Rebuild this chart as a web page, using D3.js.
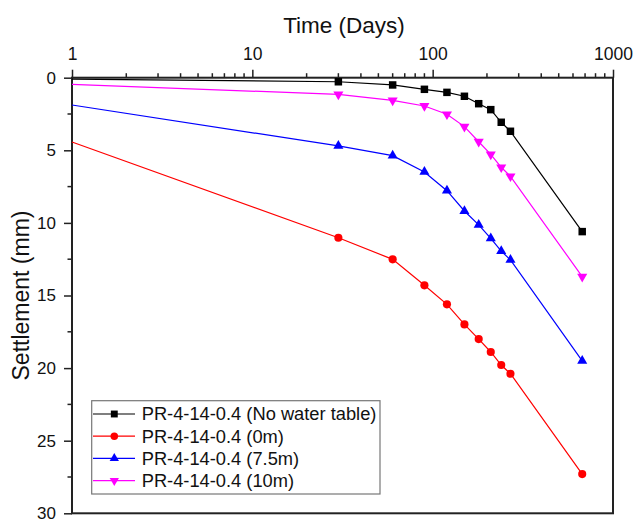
<!DOCTYPE html>
<html>
<head>
<meta charset="utf-8">
<script src="https://cdn.jsdelivr.net/npm/d3@7"></script>
<style>
  html, body { margin: 0; padding: 0; background: #fff; }
  svg text { font-family: "Liberation Sans", Arial, sans-serif; fill: #111; }
</style>
</head>
<body>
<svg id="chart" width="636" height="520"></svg>
<script>
// ---- data ----
const days = [1, 30, 60, 90, 120, 150, 180, 210, 240, 270, 675];
const seriesNames = [
  "PR-4-14-0.4 (No water table)",
  "PR-4-14-0.4 (0m)",
  "PR-4-14-0.4 (7.5m)",
  "PR-4-14-0.4 (10m)"
];
const noWaterTable = [0.10, 0.28, 0.50, 0.80, 1.01, 1.28, 1.79, 2.20, 3.07, 3.69, 10.6];
const wt0m   = [4.43, 11.02, 12.51, 14.30, 15.61, 16.99, 18.00, 18.89, 19.79, 20.39, 27.3];
const wt75m  = [1.88, 4.70, 5.37, 6.49, 7.78, 9.18, 10.14, 11.06, 11.94, 12.55, 19.5];
const wt10m  = [0.46, 1.15, 1.56, 1.95, 2.52, 3.37, 4.41, 5.28, 6.17, 6.79, 13.7];
const xMajorTicks = [1, 10, 100, 1000];
const yMajorTicks = [0, 5, 10, 15, 20, 25, 30];
// first point (day 1) is the line start, drawn without a marker
const markerFromIndex = 1;

// ---- styles ----
const colors = ["#000000", "#ff0000", "#0000ff", "#ff00ff"];
const symbols = [d3.symbolSquare, d3.symbolCircle, d3.symbolTriangle, d3.symbolTriangle];
const symSizes = [56, 52, 44, 44];
const symRot = [0, 0, 0, 180];
const allSeries = [noWaterTable, wt0m, wt75m, wt10m];

const svg = d3.select("#chart");
const L = 72, R = 613, T = 77.7, B = 513.3;

const x = d3.scaleLog().domain([1, 1000]).range([L, R]);
const y = d3.scaleLinear().domain([0, 30]).range([T, B]);

// minor ticks
const xMinor = [];
[1, 10, 100].forEach(d => { for (let k = 2; k <= 9; k++) xMinor.push(d * k); });
const yMinor = d3.range(2.5, 30, 5);

const axisColor = "#222";

// top axis
const gx = svg.append("g").attr("transform", `translate(0,${T})`);
gx.call(d3.axisTop(x).tickValues(xMajorTicks).tickFormat(d3.format("d")).tickSize(8).tickPadding(10).tickSizeOuter(0));
gx.selectAll(".tick text").style("font-size", "17.5px").attr("fill", "#111");
gx.selectAll(".tick line").attr("stroke", axisColor).attr("stroke-width", 1.5);
gx.select(".domain").remove();
gx.selectAll(".minor").data(xMinor).enter().append("line")
  .attr("x1", d => x(d)).attr("x2", d => x(d)).attr("y1", 0).attr("y2", -4.5)
  .attr("stroke", axisColor).attr("stroke-width", 1.5);

// left axis
const gy = svg.append("g").attr("transform", `translate(${L},0)`);
gy.call(d3.axisLeft(y).tickValues(yMajorTicks).tickFormat(d3.format("d")).tickSize(8).tickPadding(8).tickSizeOuter(0));
gy.selectAll(".tick text").style("font-size", "17px").attr("fill", "#111");
gy.selectAll(".tick line").attr("stroke", axisColor).attr("stroke-width", 1.5);
gy.select(".domain").remove();
gy.selectAll(".minor").data(yMinor).enter().append("line")
  .attr("y1", d => y(d)).attr("y2", d => y(d)).attr("x1", 0).attr("x2", -4.5)
  .attr("stroke", axisColor).attr("stroke-width", 1.5);

// frame
svg.append("rect").attr("x", L).attr("y", T).attr("width", R - L).attr("height", B - T)
  .attr("fill", "none").attr("stroke", axisColor).attr("stroke-width", 2);

// axis titles
svg.append("text").attr("x", 344).attr("y", 32.5).attr("text-anchor", "middle")
  .style("font-size", "22.5px").text("Time (Days)");
svg.append("text").attr("transform", `translate(29,${(T + B) / 2}) rotate(-90)`)
  .attr("text-anchor", "middle").style("font-size", "23px").text("Settlement (mm)");

// series
const line = d3.line().x(d => x(d[0])).y(d => y(d[1]));
allSeries.forEach((vals, i) => {
  const pts = days.map((d, j) => [d, vals[j]]);
  svg.append("path").datum(pts).attr("d", line)
    .attr("fill", "none").attr("stroke", colors[i]).attr("stroke-width", 1.2);
  svg.append("g").selectAll("path").data(pts.slice(markerFromIndex)).enter().append("path")
    .attr("d", d3.symbol().type(symbols[i]).size(symSizes[i]))
    .attr("transform", d => `translate(${x(d[0])},${y(d[1])}) rotate(${symRot[i]})`)
    .attr("fill", colors[i]);
});

// legend
const lg = svg.append("g");
lg.append("rect").attr("x", 91.7).attr("y", 400.7).attr("width", 288.3).attr("height", 93.3)
  .attr("fill", "#fff").attr("stroke", "#777").attr("stroke-width", 1.2);
seriesNames.forEach((name, i) => {
  const cy = 414 + i * 22.2;
  lg.append("line").attr("x1", 93).attr("x2", 135).attr("y1", cy).attr("y2", cy)
    .attr("stroke", colors[i]).attr("stroke-width", 1.2);
  lg.append("path").attr("d", d3.symbol().type(symbols[i]).size(symSizes[i] * 0.85))
    .attr("transform", `translate(114.3,${cy}) rotate(${symRot[i]})`).attr("fill", colors[i]);
  lg.append("text").attr("x", 141.7).attr("y", cy + 6.3).style("font-size", "18.3px").text(name);
});
</script>
</body>
</html>
